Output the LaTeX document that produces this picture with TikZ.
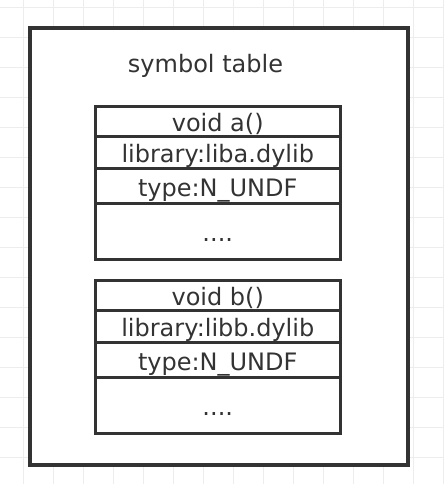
\documentclass[tikz,border=0pt]{standalone}
\usepackage{fontspec}
\setmainfont{DejaVu Sans}
\usetikzlibrary{positioning}

\definecolor{ink}{HTML}{333333}
\definecolor{gridgray}{HTML}{EDEDED}

\tikzset{
    gridline/.style={draw=gridgray, line width=1pt},
    frame/.style={draw=ink, line width=4pt, fill=white},
    cell/.style={draw=ink, line width=3pt, fill=white, minimum width=244.5pt,
        inner sep=0pt, outer sep=0pt, text height=20pt, text depth=0pt,
        text=ink, font=\fontsize{24}{28}\selectfont, anchor=north},
}

\begin{document}
\begin{tikzpicture}[x=1pt,y=1pt]
        \useasboundingbox (0,0) rectangle (444,484);

        % background grid
        \foreach \x in {23,53,...,443}
            \draw[gridline] (\x,0) -- (\x,484);
        \foreach \y in {26,56,...,476}
            \draw[gridline] (0,\y) -- (444,\y);

        \node[frame, minimum width=377.5pt, minimum height=437.5pt] (table) at (218.75,237.25) {};
        \node[text=ink, font=\fontsize{24}{28}\selectfont, anchor=base] (title) at (205.5,411) {symbol table};

        \node[cell, minimum height=30pt] (a1) at (217.75,377) {void a()};
        \node[cell, minimum height=32pt, below=0pt of a1] (a2) {library:liba.dylib};
        \node[cell, minimum height=35pt, below=0pt of a2] (a3) {type:N\_UNDF};
        \node[cell, minimum height=56pt, below=0pt of a3] (a4) {....};

        \node[cell, minimum height=30pt] (b1) at (217.75,203) {void b()};
        \node[cell, minimum height=32pt, below=0pt of b1] (b2) {library:libb.dylib};
        \node[cell, minimum height=35pt, below=0pt of b2] (b3) {type:N\_UNDF};
        \node[cell, minimum height=56pt, below=0pt of b3] (b4) {....};
    \end{tikzpicture}
\end{document}
